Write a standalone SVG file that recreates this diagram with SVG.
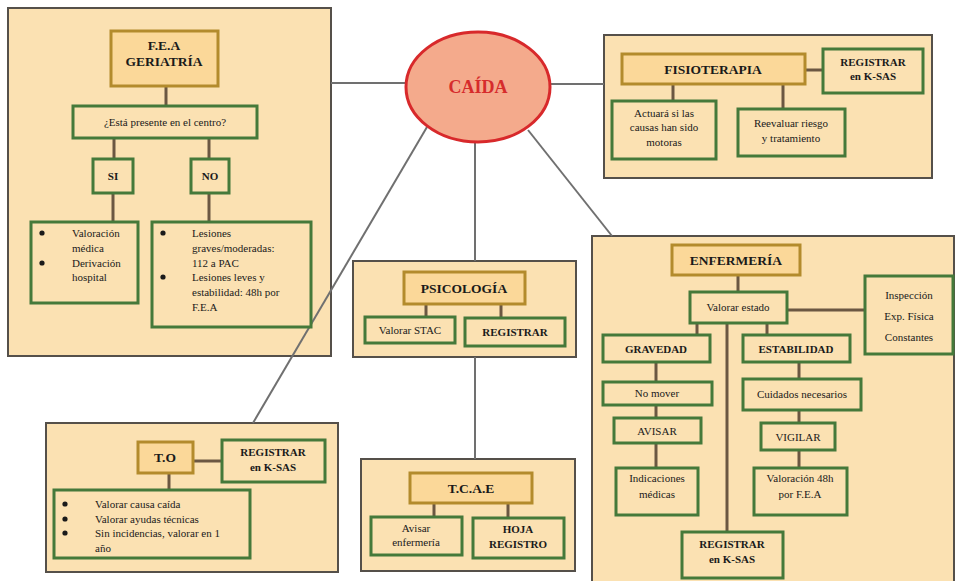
<svg xmlns="http://www.w3.org/2000/svg" width="956" height="581" viewBox="0 0 956 581">
<style>
.panel{fill:#fbe1b2;stroke:#55504a;stroke-width:2}
.title{fill:#fbd899;stroke:#b38b2c;stroke-width:3}
.box{fill:#fbe1b2;stroke:#45793a;stroke-width:3}
.main{stroke:#707070;stroke-width:2;fill:none}
.inner{stroke:#6b5742;stroke-width:3;fill:none}
.dot{fill:#1a1a1a}
text{font-family:"Liberation Serif","Times New Roman",serif;fill:#1a1a1a}
.t{font-size:13.5px;font-weight:bold;text-anchor:middle}
.b{font-size:11px;font-weight:bold;text-anchor:middle}
.n{font-size:11px;text-anchor:middle}
.l{font-size:11px}
</style>
<rect width="956" height="581" fill="#ffffff"/>
<g id="panels">
<rect id="panel-geriatria" class="panel" x="8" y="8" width="323" height="348"/>
<rect id="panel-fisioterapia" class="panel" x="604" y="35" width="328" height="143"/>
<rect id="panel-psicologia" class="panel" x="353" y="261" width="223" height="96"/>
<rect id="panel-to" class="panel" x="46" y="423" width="292" height="149"/>
<rect id="panel-tcae" class="panel" x="361" y="459" width="214" height="112"/>
<rect id="panel-enfermeria" class="panel" x="592" y="236" width="362" height="350"/>
</g>
<g id="connectors">
<line class="main" x1="331" y1="83" x2="406" y2="83"/>
<line class="main" x1="550" y1="84" x2="604" y2="84"/>
<line class="main" x1="427" y1="127" x2="253" y2="423"/>
<line class="main" x1="475" y1="142" x2="475" y2="261"/>
<line class="main" x1="475" y1="357" x2="475" y2="459"/>
<line class="main" x1="528" y1="130" x2="612" y2="236"/>
<line class="inner" x1="166" y1="86" x2="166" y2="106"/>
<line class="inner" x1="114" y1="138" x2="114" y2="159"/>
<line class="inner" x1="209" y1="138" x2="209" y2="159"/>
<line class="inner" x1="113" y1="193" x2="113" y2="222"/>
<line class="inner" x1="209" y1="193" x2="209" y2="222"/>
<line class="inner" x1="805" y1="70" x2="823" y2="70"/>
<line class="inner" x1="673" y1="84" x2="673" y2="101"/>
<line class="inner" x1="783" y1="84" x2="783" y2="109"/>
<line class="inner" x1="426" y1="304" x2="426" y2="317"/>
<line class="inner" x1="501" y1="304" x2="501" y2="318"/>
<line class="inner" x1="193" y1="461" x2="222" y2="461"/>
<line class="inner" x1="169" y1="473" x2="169" y2="490"/>
<line class="inner" x1="434" y1="503" x2="434" y2="517"/>
<line class="inner" x1="508" y1="503" x2="508" y2="518"/>
<line class="inner" x1="738" y1="275" x2="738" y2="292"/>
<line class="inner" x1="787" y1="310" x2="865" y2="310"/>
<line class="inner" x1="697" y1="323" x2="697" y2="335"/>
<line class="inner" x1="767" y1="323" x2="767" y2="335"/>
<line class="inner" x1="727" y1="323" x2="727" y2="532"/>
<line class="inner" x1="656" y1="362" x2="656" y2="382"/>
<line class="inner" x1="656" y1="405" x2="656" y2="418"/>
<line class="inner" x1="656" y1="443" x2="656" y2="468"/>
<line class="inner" x1="799" y1="362" x2="799" y2="379"/>
<line class="inner" x1="799" y1="410" x2="799" y2="423"/>
<line class="inner" x1="799" y1="450" x2="799" y2="468"/>
</g>
<g id="caida">
<ellipse cx="478" cy="87" rx="72" ry="55" fill="#f4aa8c" stroke="#d8292b" stroke-width="3"/>
<text x="478" y="93" text-anchor="middle" font-size="18" font-weight="bold" style="fill:#d62c2c">CAÍDA</text>
</g>
<g id="fea-geriatria">
<rect class="title" x="111" y="31" width="107" height="55"/>
<text class="t" x="164" y="50">F.E.A</text>
<text class="t" x="164" y="66">GERIATRÍA</text>
</g>
<g id="presente">
<rect class="box" x="73" y="106" width="184" height="32"/>
<text class="n" x="165" y="126">¿Está presente en el centro?</text>
</g>
<g id="si">
<rect class="box" x="93" y="159" width="40" height="34"/>
<text class="b" x="113" y="180">SI</text>
</g>
<g id="no">
<rect class="box" x="191" y="159" width="38" height="34"/>
<text class="b" x="210" y="180">NO</text>
</g>
<g id="si-list">
<rect class="box" x="31" y="222" width="107" height="81"/>
<circle class="dot" cx="42" cy="233" r="2.6"/>
<text class="l" x="72" y="237">Valoración</text>
<text class="l" x="72" y="252">médica</text>
<circle class="dot" cx="42" cy="263" r="2.6"/>
<text class="l" x="72" y="267">Derivación</text>
<text class="l" x="72" y="281">hospital</text>
</g>
<g id="no-list">
<rect class="box" x="152" y="222" width="159" height="105"/>
<circle class="dot" cx="163" cy="233" r="2.6"/>
<text class="l" x="192" y="237">Lesiones</text>
<text class="l" x="192" y="252">graves/moderadas:</text>
<text class="l" x="192" y="267">112 a PAC</text>
<circle class="dot" cx="163" cy="277" r="2.6"/>
<text class="l" x="192" y="281">Lesiones leves y</text>
<text class="l" x="192" y="296">estabilidad: 48h por</text>
<text class="l" x="192" y="311">F.E.A</text>
</g>
<g id="fisioterapia">
<rect class="title" x="622" y="54" width="183" height="30"/>
<text class="t" x="713" y="74">FISIOTERAPIA</text>
</g>
<g id="fisio-registrar">
<rect class="box" x="823" y="49" width="100" height="44"/>
<text class="b" x="873" y="66">REGISTRAR</text>
<text class="b" x="873" y="80">en K-SAS</text>
</g>
<g id="fisio-actuara">
<rect class="box" x="612" y="101" width="104" height="58"/>
<text class="n" x="664" y="117">Actuará si las</text>
<text class="n" x="664" y="131">causas han sido</text>
<text class="n" x="664" y="146">motoras</text>
</g>
<g id="fisio-reevaluar">
<rect class="box" x="738" y="109" width="107" height="47"/>
<text class="n" x="791" y="127">Reevaluar riesgo</text>
<text class="n" x="791" y="142">y tratamiento</text>
</g>
<g id="psicologia">
<rect class="title" x="404" y="272" width="121" height="32"/>
<text class="t" x="464" y="293">PSICOLOGÍA</text>
</g>
<g id="psico-stac">
<rect class="box" x="365" y="317" width="90" height="26"/>
<text class="n" x="410" y="334">Valorar STAC</text>
</g>
<g id="psico-registrar">
<rect class="box" x="465" y="318" width="100" height="28"/>
<text class="b" x="515" y="336">REGISTRAR</text>
</g>
<g id="to">
<rect class="title" x="138" y="442" width="55" height="31"/>
<text class="t" x="165" y="462">T.O</text>
</g>
<g id="to-registrar">
<rect class="box" x="222" y="440" width="103" height="42"/>
<text class="b" x="273" y="456">REGISTRAR</text>
<text class="b" x="273" y="471">en K-SAS</text>
</g>
<g id="to-list">
<rect class="box" x="54" y="490" width="196" height="68"/>
<circle class="dot" cx="65" cy="504" r="2.6"/>
<text class="l" x="95" y="508">Valorar causa caída</text>
<circle class="dot" cx="65" cy="519" r="2.6"/>
<text class="l" x="95" y="523">Valorar ayudas técnicas</text>
<circle class="dot" cx="65" cy="533" r="2.6"/>
<text class="l" x="95" y="537">Sin incidencias, valorar en 1</text>
<text class="l" x="95" y="552">año</text>
</g>
<g id="tcae">
<rect class="title" x="410" y="473" width="122" height="30"/>
<text class="t" x="471" y="493">T.C.A.E</text>
</g>
<g id="tcae-avisar">
<rect class="box" x="371" y="517" width="91" height="38"/>
<text class="n" x="416" y="532">Avisar</text>
<text class="n" x="416" y="546">enfermería</text>
</g>
<g id="tcae-hoja">
<rect class="box" x="473" y="518" width="91" height="40"/>
<text class="b" x="518" y="533">HOJA</text>
<text class="b" x="518" y="548">REGISTRO</text>
</g>
<g id="enfermeria">
<rect class="title" x="672" y="245" width="128" height="30"/>
<text class="t" x="736" y="265">ENFERMERÍA</text>
</g>
<g id="valorar-estado">
<rect class="box" x="690" y="292" width="97" height="31"/>
<text class="n" x="738" y="311">Valorar estado</text>
</g>
<g id="inspeccion">
<rect class="box" x="865" y="276" width="88" height="78"/>
<text class="n" x="909" y="299">Inspección</text>
<text class="n" x="909" y="320">Exp. Física</text>
<text class="n" x="909" y="341">Constantes</text>
</g>
<g id="gravedad">
<rect class="box" x="603" y="335" width="107" height="27"/>
<text class="b" x="656" y="353">GRAVEDAD</text>
</g>
<g id="estabilidad">
<rect class="box" x="743" y="335" width="107" height="27"/>
<text class="b" x="796" y="353">ESTABILIDAD</text>
</g>
<g id="no-mover">
<rect class="box" x="603" y="382" width="109" height="23"/>
<text class="n" x="657" y="397">No mover</text>
</g>
<g id="avisar">
<rect class="box" x="614" y="418" width="87" height="25"/>
<text class="n" x="657" y="435">AVISAR</text>
</g>
<g id="indicaciones">
<rect class="box" x="616" y="468" width="82" height="47"/>
<text class="n" x="657" y="482">Indicaciones</text>
<text class="n" x="657" y="498">médicas</text>
</g>
<g id="cuidados">
<rect class="box" x="743" y="379" width="118" height="31"/>
<text class="n" x="802" y="398">Cuidados necesarios</text>
</g>
<g id="vigilar">
<rect class="box" x="761" y="423" width="74" height="27"/>
<text class="n" x="798" y="441">VIGILAR</text>
</g>
<g id="valoracion-48h">
<rect class="box" x="754" y="468" width="93" height="47"/>
<text class="n" x="800" y="482">Valoración 48h</text>
<text class="n" x="800" y="498">por F.E.A</text>
</g>
<g id="enf-registrar">
<rect class="box" x="682" y="532" width="101" height="46"/>
<text class="b" x="732" y="548">REGISTRAR</text>
<text class="b" x="732" y="563">en K-SAS</text>
</g>
</svg>
